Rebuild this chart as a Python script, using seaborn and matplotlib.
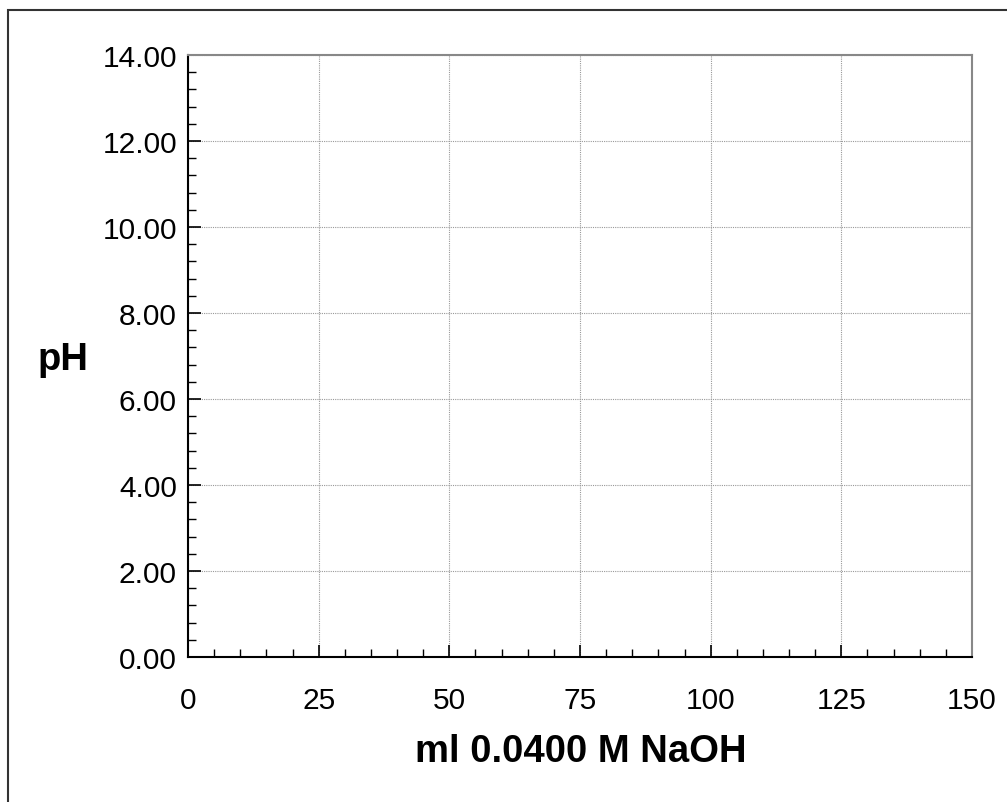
import numpy as np
import pandas as pd
import seaborn as sns
import matplotlib.pyplot as plt
from matplotlib.patches import Rectangle
from matplotlib.ticker import MultipleLocator, FormatStrFormatter

# axis setup (empty titration grid)
xLimits = [0, 150]
yLimits = [0, 14]
xMajorStep = 25
xMinorStep = 5
yMajorStep = 2
yMinorStep = 0.4
xLabel = "ml 0.0400 M NaOH"
yLabel = "pH"

# no curve yet, just an empty frame
volumes = []
phValues = []

###
def plotEmptyTitration():
    sns.set_style("white")
    plt.rcParams['font.family'] = ['Liberation Sans', 'DejaVu Sans']
    plt.rcParams['text.color'] = 'black'

    fig = plt.figure(figsize=(10.07, 8.03), dpi=100)
    ax = fig.add_axes([188/1007, 1 - 658/803, (972 - 188)/1007, (658 - 56)/803])

    data = pd.DataFrame({"volume": volumes, "pH": phValues})
    sns.lineplot(x="volume", y="pH", data=data, ax=ax)

    ax.set_xlim(xLimits)
    ax.set_ylim(yLimits)
    ax.xaxis.set_major_locator(MultipleLocator(xMajorStep))
    ax.xaxis.set_minor_locator(MultipleLocator(xMinorStep))
    ax.yaxis.set_major_locator(MultipleLocator(yMajorStep))
    ax.yaxis.set_minor_locator(MultipleLocator(yMinorStep))
    ax.yaxis.set_major_formatter(FormatStrFormatter('%.2f'))

    ax.grid(True, which='major', color='#999999', linestyle=(0, (1, 1)), linewidth=0.8)
    ax.tick_params(which='major', direction='in', length=9, width=1.2, color='black',
                   labelsize=21.5, labelcolor='black')
    ax.tick_params(axis='x', which='major', pad=21)
    ax.tick_params(axis='y', which='major', pad=8)
    ax.tick_params(which='minor', direction='in', length=6, width=1.0, color='black')
    ax.tick_params(left=True, bottom=True, which='both')

    for side in ['left', 'bottom']:
        ax.spines[side].set_color('black')
        ax.spines[side].set_linewidth(1.5)
    for side in ['top', 'right']:
        ax.spines[side].set_color('#888888')
        ax.spines[side].set_linewidth(1.5)

    ax.set_xlabel("")
    ax.set_ylabel("")
    fig.text(581/1007, 1 - 752/803, xLabel, fontsize=27.5, fontweight='bold',
             ha='center', va='center', color='black')
    fig.text(63/1007, 1 - 360/803, yLabel, fontsize=27.5, fontweight='bold',
             ha='center', va='center', color='black')

    # outer frame, right and bottom run past the image edge
    frame = Rectangle((8/1007, -0.1), 1.2, 1 - 11/803 + 0.1, transform=fig.transFigure,
                      fill=False, edgecolor='#333333', linewidth=1.5)
    fig.patches.append(frame)

    fig.savefig('out.png', dpi=100)


###
if __name__ == '__main__':
    plotEmptyTitration()
